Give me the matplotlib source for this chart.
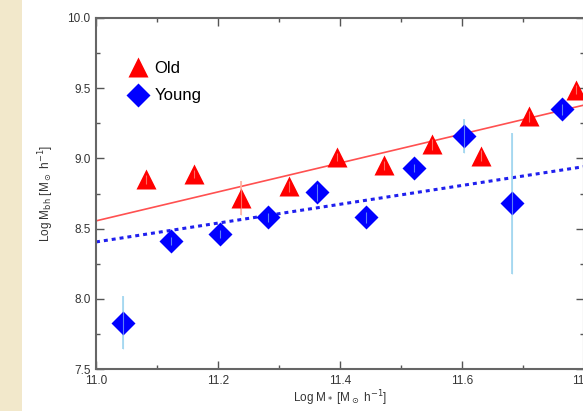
import matplotlib.pyplot as plt
from matplotlib.patches import Rectangle
from matplotlib.ticker import MultipleLocator

plt.rcParams['font.family'] = ['Liberation Sans', 'DejaVu Sans']

# Old galaxies
x_old = [11.082, 11.161, 11.238, 11.317, 11.396, 11.473, 11.552, 11.631, 11.710, 11.788]
y_old = [8.85, 8.89, 8.72, 8.80, 9.01, 8.95, 9.10, 9.02, 9.30, 9.49]
e_old = [0.03, 0.03, 0.12, 0.04, 0.03, 0.03, 0.04, 0.04, 0.04, 0.03]

# Young galaxies
x_young = [11.044, 11.123, 11.204, 11.283, 11.363, 11.443, 11.522, 11.603, 11.683, 11.764]
y_young = [7.83, 8.41, 8.46, 8.58, 8.76, 8.58, 8.93, 9.16, 8.68, 9.35]
e_young = [0.19, 0.03, 0.03, 0.03, 0.06, 0.04, 0.03, 0.12, 0.50, 0.04]

# fit lines (intercept at 11.0, slope)
fit_old = (8.555, 1.03)
fit_young = (8.405, 0.67)

fig = plt.figure(figsize=(5.83, 4.11), dpi=100)
fig.patches.append(Rectangle((0, 0), 22 / 583, 1, transform=fig.transFigure,
                             facecolor='#f2e8cb', edgecolor='none', zorder=0))
ax = fig.add_axes([96 / 583, 1 - 369 / 411, 1 - 96 / 583 + 0.001, (369 - 18) / 411])

xl = [11.0, 11.8]
ax.plot(xl, [fit_old[0] + fit_old[1] * (v - 11.0) for v in xl], color='#ff5050', lw=1.2, zorder=2)
ax.plot(xl, [fit_young[0] + fit_young[1] * (v - 11.0) for v in xl], color='#2020ee', lw=2.2,
        ls=(0, (1.3, 1.3)), zorder=2)

ax.errorbar(x_old, y_old, yerr=e_old, fmt='none', ecolor='#ffb0a0', elinewidth=1.2, zorder=3)
ax.errorbar(x_young, y_young, yerr=e_young, fmt='none', ecolor='#9fd6f0', elinewidth=1.2, zorder=3)
ax.plot(x_old, y_old, '^', color='#ff0000', ms=15, mec='none', zorder=4, label='Old')
ax.plot(x_young, y_young, 'D', color='#0000ff', ms=12, mec='none', zorder=4, label='Young')
# faint error bars across the markers, as in the original
ax.errorbar(x_old, y_old, yerr=e_old, fmt='none', ecolor='#ffb0a0', elinewidth=0.8, zorder=5, alpha=0.6)
ax.errorbar(x_young, y_young, yerr=e_young, fmt='none', ecolor='#9fd6f0', elinewidth=0.8, zorder=5, alpha=0.6)

ax.set_xlim(11.0, 11.8)
ax.set_ylim(7.5, 10.0)
ax.xaxis.set_minor_locator(MultipleLocator(0.1))
ax.yaxis.set_minor_locator(MultipleLocator(0.25))
ax.set_xticks([11.0, 11.2, 11.4, 11.6, 11.8])
ax.set_xticklabels(['11.0', '11.2', '11.4', '11.6', '11.8'])
ax.set_yticks([7.5, 8.0, 8.5, 9.0, 9.5, 10.0])
ax.set_yticklabels(['7.5', '8.0', '8.5', '9.0', '9.5', '10.0'])
ax.tick_params(which='both', direction='in', top=True, right=True, color='#555555',
               labelsize=8.5, labelcolor='#333333', pad=4)
ax.tick_params(which='major', length=6, width=1)
ax.tick_params(which='minor', length=3, width=1)
for s in ax.spines.values():
    s.set_color('#666666')
    s.set_linewidth(1.5)

ax.set_xlabel(r'Log M$_*$ [M$_\odot$ h$^{-1}$]', fontsize=8.5, color='#333333', labelpad=1)
ax.set_ylabel(r'Log M$_{\rm bh}$ [M$_\odot$ h$^{-1}$]', fontsize=8.5, color='#333333', labelpad=8)

ax.legend(loc='upper left', bbox_to_anchor=(0.0, 0.968), frameon=False, fontsize=12,
          handletextpad=0.4, labelspacing=0.75, borderaxespad=1.5, handlelength=1.2, numpoints=1)

fig.savefig('out.png', dpi=100)
